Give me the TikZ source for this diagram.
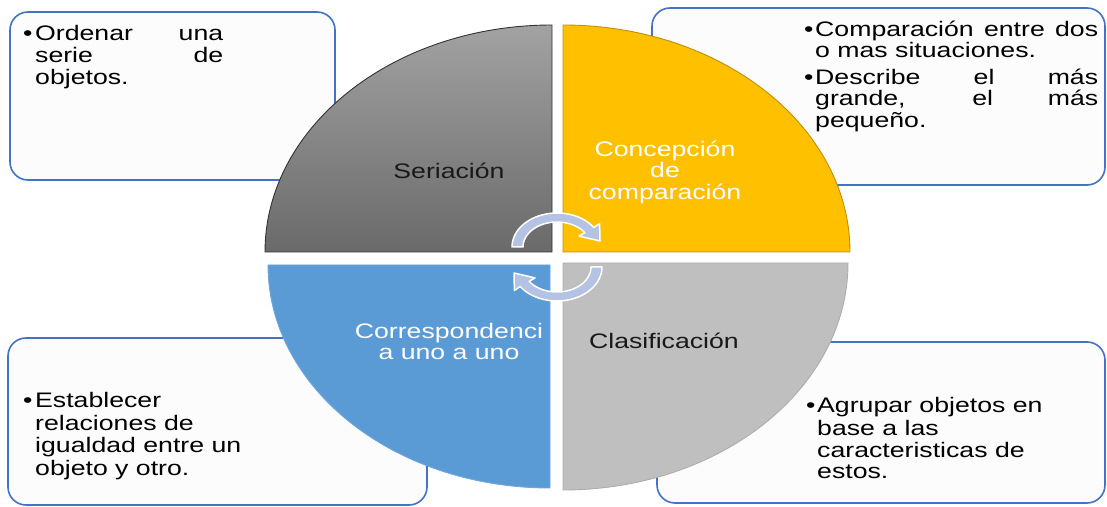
\documentclass[tikz,border=0pt]{standalone}
\usepackage{fontspec}
\setmainfont{Liberation Sans}[FakeStretch=1.27]
\definecolor{boxblue}{HTML}{4472C4}
\definecolor{qyellow}{HTML}{FFC000}
\definecolor{qyellowd}{HTML}{BF9000}
\definecolor{qblue}{HTML}{5B9BD5}
\definecolor{qblued}{HTML}{6FA6DA}
\definecolor{qlgray}{HTML}{BFBFBF}
\definecolor{qlgrayd}{HTML}{ADADAD}
\definecolor{qgtop}{HTML}{A2A2A2}
\definecolor{qgbot}{HTML}{6A6A6A}
\definecolor{qgd}{HTML}{333333}
\definecolor{arrowfill}{HTML}{B4C3E3}
\definecolor{boxfill}{HTML}{FCFCFC}
\begin{document}
\begin{tikzpicture}[x=1bp,y=-1bp,
  infobox/.style={draw=boxblue, line width=1.6bp, fill=boxfill, rounded corners=18bp, inner sep=0},
  txt/.style={anchor=base west, inner sep=0, font=\fontsize{21bp}{22bp}\selectfont},
  lbl/.style={anchor=base, inner sep=0, font=\fontsize{21bp}{22bp}\selectfont},
  cyc/.style={fill=arrowfill, draw=white, line width=1.5bp, line join=round}]
\useasboundingbox (0,0) rectangle (1107,507);

% information boxes
\node[infobox, minimum width=325bp, minimum height=168bp] (bTL) at (172.5,96) {};
\node[infobox, minimum width=453bp, minimum height=177bp] (bTR) at (878.5,96.5) {};
\node[infobox, minimum width=419bp, minimum height=167bp] (bBL) at (217.5,421.5) {};
\node[infobox, minimum width=448bp, minimum height=161bp] (bBR) at (881,422.5) {};

% quadrants
\path[top color=qgtop, bottom color=qgbot, draw=qgd, line width=0.9bp]
  (552,252) -- (265,252) .. controls (265,126.6) and (393.5,25) .. (552,25) -- cycle;
\path[fill=qyellow, draw=qyellowd, line width=0.9bp]
  (563,252) -- (563,25) .. controls (721.5,25) and (850,126.6) .. (850,252) -- cycle;
\path[fill=qblue, draw=qblued, line width=0.9bp]
  (550,265) -- (268,265) .. controls (268,388.2) and (394.3,488) .. (550,488) -- cycle;
\path[fill=qlgray, draw=qlgrayd, line width=0.9bp]
  (563,263) -- (848,263) .. controls (848,388.4) and (720.4,490) .. (563,490) -- cycle;

% cycle arrows
\begin{scope}[shift={(557,247)}, yscale=-1]
  \path[cyc] plot[domain=180:35,samples=40] ({45*cos(\x)},{34*sin(\x)})
    -- (42.6,23.5) -- (43,6) -- (22,10.9)
    -- plot[domain=35:180,samples=40] ({34*cos(\x)},{25*sin(\x)}) -- cycle;
\end{scope}
\begin{scope}[shift={(557,267)}, yscale=-1, rotate=180]
  \path[cyc] plot[domain=180:35,samples=40] ({45*cos(\x)},{34*sin(\x)})
    -- (42.6,23.5) -- (43,6) -- (22,10.9)
    -- plot[domain=35:180,samples=40] ({34*cos(\x)},{25*sin(\x)}) -- cycle;
\end{scope}

% quadrant labels
\node[lbl, text=black!90] (lS) at (449,179) {Seriación};
\node[lbl, text=white] (lC1) at (665,157) {Concepción};
\node[lbl, text=white] (lC2) at (665,178) {de};
\node[lbl, text=white] (lC3) at (665,200) {comparación};
\node[lbl, text=white] (lR1) at (449,339) {Correspondenci};
\node[lbl, text=white] (lR2) at (449,360) {a uno a uno};
\node[lbl, text=black!90] (lK) at (664,349) {Clasificación};

% box texts
\node[txt] (tlb) at (23,41) {•};
\node[txt] (tl1) at (35,41) {\makebox[188bp][s]{Ordenar una}};
\node[txt] (tl2) at (35,63) {\makebox[188bp][s]{serie de}};
\node[txt] (tl3) at (35,85) {objetos.};

\node[txt] (trb1) at (804,37) {•};
\node[txt] (tr1) at (815,37) {\makebox[283bp][s]{Comparación entre dos}};
\node[txt] (tr2) at (815,58) {o mas situaciones.};
\node[txt] (trb2) at (804,85) {•};
\node[txt] (tr3) at (815,85) {\makebox[283bp][s]{Describe el más}};
\node[txt] (tr4) at (815,106) {\makebox[283bp][s]{grande, el más}};
\node[txt] (tr5) at (815,128) {pequeño.};

\node[txt] (blb) at (23,407) {•};
\node[txt] (bl1) at (35,407) {Establecer};
\node[txt] (bl2) at (35,430) {relaciones de};
\node[txt] (bl3) at (35,452) {igualdad entre un};
\node[txt] (bl4) at (35,475) {objeto y otro.};

\node[txt] (brb) at (806,412) {•};
\node[txt] (br1) at (817,412) {Agrupar objetos en};
\node[txt] (br2) at (817,435) {base a las};
\node[txt] (br3) at (817,457) {caracteristicas de};
\node[txt] (br4) at (817,478) {estos.};
\end{tikzpicture}
\end{document}
